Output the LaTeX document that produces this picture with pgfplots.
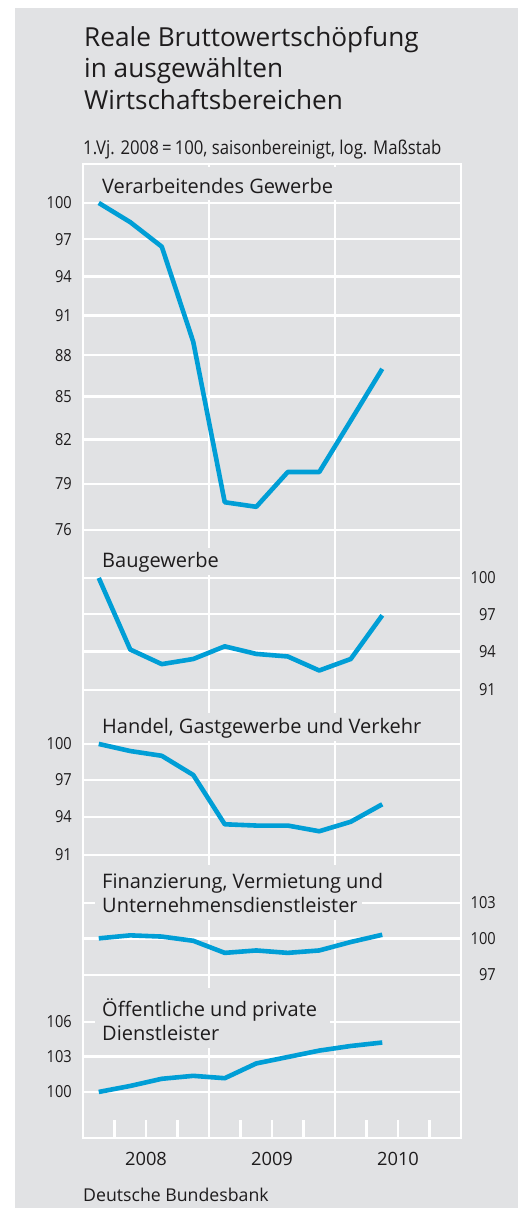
\documentclass[border=0pt]{standalone}
\usepackage{pgfplots}
\pgfplotsset{compat=1.18}
\usepackage{fontspec}
\setmainfont{Open Sans}
\newfontfamily\cond[FakeStretch=0.88]{Open Sans}
\definecolor{bg}{RGB}{225,226,228}
\definecolor{txt}{RGB}{30,28,29}
\definecolor{bbblue}{RGB}{0,158,214}
\newcommand\tickfont{\cond\fontsize{16.6}{17}\selectfont}
\pgfplotsset{
  panel/.style={scale only axis, width=378pt, anchor=north west, xmin=0, xmax=12,
    clip=false, axis line style={draw=none}, xtick=\empty, major tick length=0pt,
    tick style={draw=none}, ymajorgrids, major grid style={white, line width=2.4pt},
    yticklabel style={font=\tickfont, inner sep=0pt, text=txt}},
  leftlab/.style={yticklabel style={anchor=east, xshift=-11pt}},
  rightlab/.style={yticklabel pos=right, yticklabel style={anchor=east, xshift=35pt}},
  series/.style={color=bbblue, line width=4.6pt, line join=round, mark=none},
}
\begin{document}
\begin{tikzpicture}
\begin{scope}[x=1pt,y=1pt]
\fill[white] (0,0) rectangle (518,-1208);
\fill[bg] (15,-8) rectangle (518,-1208);
\path[use as bounding box] (0,0) rectangle (518,-1208);
\end{scope}

% frame axis
\begin{axis}[scale only axis, width=378pt, height=974pt, at={(83pt,-164pt)}, anchor=north west,
  xmin=0, xmax=12, ymin=0, ymax=1, ytick=\empty,
  axis line style={white, line width=2.4pt},
  xtick={4,8}, xticklabels={}, xmajorgrids,
  minor xtick={1,2,3,5,6,7,9,10,11},
  major tick length=0pt, minor tick length=18pt, tick align=inside, xtick pos=left,
  tick style={white, line width=2.4pt},
  major grid style={white, line width=2.4pt}]
\draw[white, line width=2.4pt] (axis cs:4,0) -- ++(0pt,-27pt);
\draw[white, line width=2.4pt] (axis cs:8,0) -- ++(0pt,-27pt);
\end{axis}

% panels
\begin{axis}[ymode=log, panel, leftlab, at={(83pt,-203pt)}, height=327pt, ymin=76, ymax=100,
  ytick={76,79,82,85,88,91,94,97,100}, yticklabels={76,79,82,85,88,91,94,97,100}]
\addplot[series] coordinates {(0.5,100) (1.5,98.4) (2.5,96.4) (3.5,89.0) (4.5,77.8) (5.5,77.5) (6.5,79.8) (7.5,79.8) (8.5,83.3) (9.5,87.0)};
\end{axis}
\begin{axis}[ymode=log, panel, rightlab, at={(83pt,-578pt)}, height=112pt, ymin=91, ymax=100,
  ytick={91,94,97,100}, yticklabels={91,94,97,100}]
\addplot[series] coordinates {(0.5,100) (1.5,94.15) (2.5,93.0) (3.5,93.4) (4.5,94.4) (5.5,93.8) (6.5,93.6) (7.5,92.5) (8.5,93.4) (9.5,96.9)};
\end{axis}
\begin{axis}[ymode=log, panel, leftlab, at={(83pt,-744pt)}, height=111pt, ymin=91, ymax=100,
  ytick={91,94,97,100}, yticklabels={91,94,97,100}]
\addplot[series] coordinates {(0.5,100) (1.5,99.4) (2.5,99.0) (3.5,97.4) (4.5,93.4) (5.5,93.3) (6.5,93.3) (7.5,92.85) (8.5,93.6) (9.5,95.0)};
\end{axis}
\begin{axis}[ymode=log, panel, rightlab, at={(83pt,-903pt)}, height=72pt, ymin=97, ymax=103,
  ytick={97,100,103}, yticklabels={97,100,103}]
\addplot[series] coordinates {(0.5,100) (1.5,100.25) (2.5,100.15) (3.5,99.8) (4.5,98.8) (5.5,99.0) (6.5,98.8) (7.5,99.0) (8.5,99.7) (9.5,100.3)};
\end{axis}
\begin{axis}[ymode=log, panel, leftlab, at={(83pt,-1022pt)}, height=70pt, ymin=100, ymax=106,
  ytick={100,103,106}, yticklabels={100,103,106}]
\addplot[series] coordinates {(0.5,100) (1.5,100.5) (2.5,101.1) (3.5,101.35) (4.5,101.15) (5.5,102.4) (6.5,102.95) (7.5,103.5) (8.5,103.9) (9.5,104.2)};
\end{axis}

\begin{scope}[x=1pt,y=1pt]
% label boxes
\fill[bg] (95,-167) rectangle (342,-200);
\fill[bg] (95,-548) rectangle (228,-575.3);
\fill[bg] (95,-713) rectangle (434,-741.3);
\fill[bg] (95,-865) rectangle (397,-896);
\fill[bg] (95,-896) rectangle (362,-920);
\fill[bg] (95,-988) rectangle (330,-1024);
\fill[bg] (95,-1024) rectangle (228,-1048);
% texts
\begin{scope}[every node/.style={inner sep=0pt, text=txt}]
\node[anchor=base west, font=\fontsize{26.2}{28}\selectfont] at (84,-46) {Reale Bruttowertschöpfung};
\node[anchor=base west, font=\fontsize{26.2}{28}\selectfont] at (84,-77) {in ausgewählten};
\node[anchor=base west, font=\fontsize{26.2}{28}\selectfont] at (84,-109) {Wirtschaftsbereichen};
\node[anchor=base west, font=\cond\fontsize{19}{20}\selectfont] at (83,-154) {1.Vj. 2008\,=\,100, saisonbereinigt, log. Maßstab};
\node[anchor=base west, font=\fontsize{20}{21}\selectfont] at (102,-193) {Verarbeitendes Gewerbe};
\node[anchor=base west, font=\fontsize{20}{21}\selectfont] at (102,-567) {Baugewerbe};
\node[anchor=base west, font=\fontsize{20}{21}\selectfont] at (102,-733) {Handel, Gastgewerbe und Verkehr};
\node[anchor=base west, font=\fontsize{20}{21}\selectfont] at (102,-888) {Finanzierung, Vermietung und};
\node[anchor=base west, font=\fontsize{20}{21}\selectfont] at (102,-912) {Unternehmensdienstleister};
\node[anchor=base west, font=\fontsize{20}{21}\selectfont] at (102,-1016) {Öffentliche und private};
\node[anchor=base west, font=\fontsize{20}{21}\selectfont] at (102,-1040) {Dienstleister};
\node[anchor=base, font=\fontsize{18.3}{19}\selectfont] at (146,-1165) {2008};
\node[anchor=base, font=\fontsize{18.3}{19}\selectfont] at (272,-1165) {2009};
\node[anchor=base, font=\fontsize{18.3}{19}\selectfont] at (398,-1165) {2010};
\node[anchor=base west, font=\fontsize{17.7}{18}\selectfont] at (83,-1201) {Deutsche Bundesbank};
\end{scope}
\end{scope}
\end{tikzpicture}
\end{document}
